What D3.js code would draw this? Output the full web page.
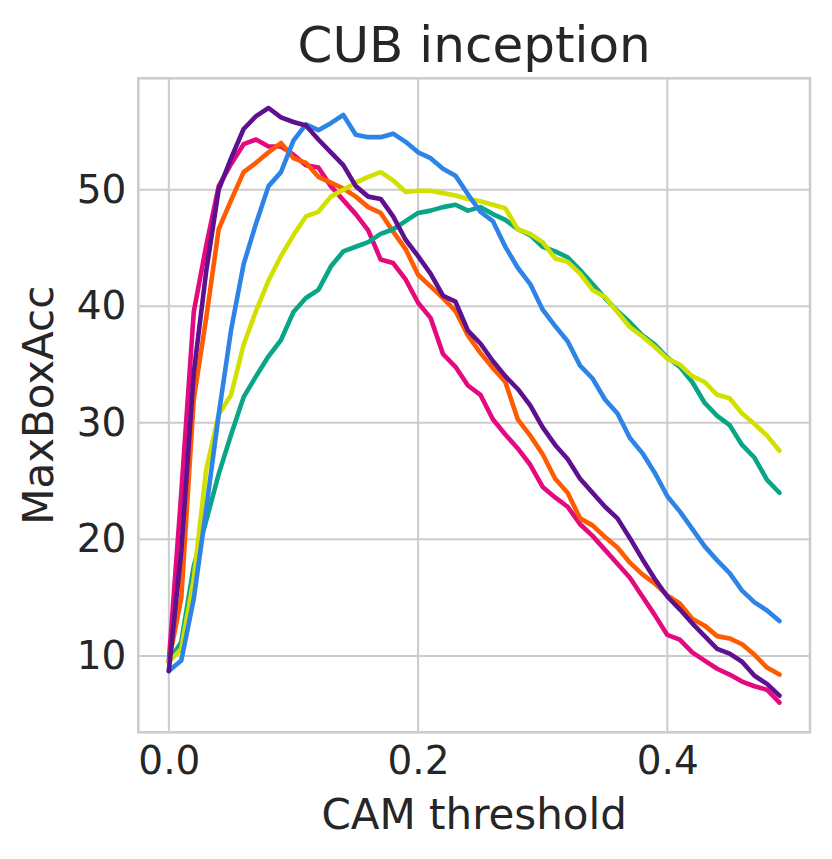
<!DOCTYPE html>
<html>
<head>
<meta charset="utf-8">
<script src="https://cdn.jsdelivr.net/npm/d3@7"></script>
<style>
  html, body { margin: 0; padding: 0; background: #fff; }
  text { font-family: "DejaVu Sans", sans-serif; fill: #262626; }
</style>
</head>
<body>
<svg id="chart" width="832" height="859"></svg>
<script>
// CAM thresholds on the x axis
const thresholds = [0.00, 0.01, 0.02, 0.03, 0.04, 0.05, 0.06, 0.07, 0.08, 0.09,
  0.10, 0.11, 0.12, 0.13, 0.14, 0.15, 0.16, 0.17, 0.18, 0.19,
  0.20, 0.21, 0.22, 0.23, 0.24, 0.25, 0.26, 0.27, 0.28, 0.29,
  0.30, 0.31, 0.32, 0.33, 0.34, 0.35, 0.36, 0.37, 0.38, 0.39,
  0.40, 0.41, 0.42, 0.43, 0.44, 0.45, 0.46, 0.47, 0.48, 0.49]

const magentaValues = [9.5, 24, 39.5, 45.2, 50.3, 52.2, 53.9, 54.3, 53.7, 53.7,
  53.0, 52.1, 51.9, 50.3, 49.1, 47.9, 46.5, 44.0, 43.7, 42.3,
  40.3, 39.0, 35.9, 34.8, 33.2, 32.4, 30.3, 29.0, 27.8, 26.4,
  24.5, 23.6, 22.8, 21.3, 20.3, 19.1, 17.9, 16.7, 15.1, 13.5,
  11.8, 11.4, 10.3, 9.6, 8.9, 8.4, 7.8, 7.4, 7.1, 6.0]

const orangeValues = [9.5, 15, 32, 39.0, 46.6, 49.1, 51.5, 52.3, 53.2, 54.0,
  52.7, 52.3, 51.1, 50.6, 50.1, 49.4, 48.5, 48.0, 46.4, 44.9,
  42.7, 41.7, 40.7, 39.6, 37.5, 36.0, 34.7, 33.5, 30.3, 28.9,
  27.3, 25.2, 24.0, 21.8, 21.2, 20.2, 19.3, 18.0, 17.0, 16.2,
  15.2, 14.5, 13.2, 12.6, 11.7, 11.5, 11.0, 10.1, 9.0, 8.4]

const tealValues = [9.5, 11.2, 17.7, 21.6, 25.6, 29.0, 32.2, 34.0, 35.7, 37.1,
  39.5, 40.7, 41.4, 43.4, 44.7, 45.1, 45.5, 46.2, 46.6, 47.3,
  48.0, 48.2, 48.5, 48.7, 48.2, 48.5, 47.9, 47.4, 46.6, 46.1,
  45.1, 44.7, 44.2, 43.1, 41.9, 40.7, 39.6, 38.6, 37.5, 36.7,
  35.6, 34.8, 33.5, 31.7, 30.6, 29.8, 28.1, 27.0, 25.1, 24.0]

const yellowValues = [9.5, 10.6, 16.6, 26.0, 30.7, 32.4, 36.7, 39.6, 42.2, 44.3,
  46.1, 47.7, 48.1, 49.4, 50.0, 50.6, 51.1, 51.5, 50.8, 49.8,
  49.9, 49.9, 49.7, 49.5, 49.2, 49.0, 48.7, 48.4, 46.6, 46.2,
  45.5, 44.1, 43.8, 42.8, 41.4, 40.8, 39.5, 38.2, 37.4, 36.5,
  35.5, 35.0, 34.0, 33.5, 32.4, 32.1, 30.8, 29.9, 28.9, 27.6]

const blueValues = [8.7, 9.6, 14.9, 22.6, 30.7, 38.0, 43.6, 47.1, 50.3, 51.5,
  54.2, 55.6, 55.1, 55.7, 56.4, 54.7, 54.5, 54.5, 54.8, 54.1,
  53.2, 52.7, 51.8, 51.2, 49.6, 48.1, 47.3, 45.1, 43.3, 41.9,
  39.7, 38.3, 37.0, 34.9, 33.8, 32.0, 30.8, 28.7, 27.4, 25.7,
  23.7, 22.4, 20.9, 19.4, 18.2, 17.1, 15.6, 14.6, 13.9, 13.0]

const purpleValues = [8.7, 19, 34.3, 43.0, 50.0, 52.7, 55.2, 56.3, 57.0, 56.2,
  55.8, 55.5, 54.3, 53.2, 52.1, 50.3, 49.4, 49.2, 47.7, 45.7,
  44.3, 42.8, 40.9, 40.4, 37.9, 36.8, 35.3, 34.0, 32.9, 31.5,
  29.6, 28.1, 26.9, 25.2, 24.0, 22.8, 21.8, 20.1, 18.3, 16.6,
  15.1, 14.0, 12.8, 11.7, 10.6, 10.2, 9.5, 8.3, 7.6, 6.6]

const xTicks = [0.0, 0.2, 0.4]
const yTicks = [10, 20, 30, 40, 50]

// drawing order matters for overlaps, last one ends up on top
const series = [
  { values: magentaValues, color: "#e5097f" },
  { values: orangeValues, color: "#ff5b00" },
  { values: tealValues, color: "#08a587" },
  { values: yellowValues, color: "#d2e000" },
  { values: blueValues, color: "#2e84e6" },
  { values: purpleValues, color: "#5d108f" }
]

const width = 832
const height = 859
const margin = { top: 78.3, right: 22, bottom: 126.7, left: 138.3 }

const svg = d3.select("#chart")

// matplotlib style 5% padding around the data
function padded(extent) {
  const pad = (extent[1] - extent[0]) * 0.05
  return [extent[0] - pad, extent[1] + pad]
}

const allValues = series.flatMap(s => s.values)

const x = d3.scaleLinear()
  .domain(padded(d3.extent(thresholds)))
  .range([margin.left, width - margin.right])

const y = d3.scaleLinear()
  .domain(padded(d3.extent(allValues)))
  .range([height - margin.bottom, margin.top])

// grid
const grid = svg.append("g")
grid.selectAll("line.vgrid")
  .data(xTicks)
  .join("line")
  .attr("class", "vgrid")
  .attr("x1", d => x(d)).attr("x2", d => x(d))
  .attr("y1", margin.top).attr("y2", height - margin.bottom)
  .attr("stroke", "#cccccc")
  .attr("stroke-width", 2)

grid.selectAll("line.hgrid")
  .data(yTicks)
  .join("line")
  .attr("class", "hgrid")
  .attr("x1", margin.left).attr("x2", width - margin.right)
  .attr("y1", d => y(d)).attr("y2", d => y(d))
  .attr("stroke", "#cccccc")
  .attr("stroke-width", 2)

// lines
const line = d3.line()
  .x((d, i) => x(thresholds[i]))
  .y(d => y(d))

svg.append("g")
  .selectAll("path")
  .data(series)
  .join("path")
  .attr("d", d => line(d.values))
  .attr("fill", "none")
  .attr("stroke", d => d.color)
  .attr("stroke-width", 4.6)
  .attr("stroke-linejoin", "round")
  .attr("stroke-linecap", "round")

// frame
svg.append("rect")
  .attr("x", margin.left)
  .attr("y", margin.top)
  .attr("width", width - margin.left - margin.right)
  .attr("height", height - margin.top - margin.bottom)
  .attr("fill", "none")
  .attr("stroke", "#cccccc")
  .attr("stroke-width", 2.6)

// axes, seaborn whitegrid has no tick marks
const xAxis = d3.axisBottom(x)
  .tickValues(xTicks)
  .tickFormat(d3.format(".1f"))
  .tickSize(0)
  .tickPadding(14)

const yAxis = d3.axisLeft(y)
  .tickValues(yTicks)
  .tickFormat(d3.format("d"))
  .tickSize(0)
  .tickPadding(12)

svg.append("g")
  .attr("transform", `translate(0,${height - margin.bottom})`)
  .call(xAxis)
  .call(g => g.select(".domain").remove())
  .call(g => g.selectAll("text")
    .attr("font-size", 39)
    .attr("font-family", "DejaVu Sans")
    .attr("fill", "#262626"))

svg.append("g")
  .attr("transform", `translate(${margin.left},0)`)
  .call(yAxis)
  .call(g => g.select(".domain").remove())
  .call(g => g.selectAll("text")
    .attr("font-size", 39)
    .attr("font-family", "DejaVu Sans")
    .attr("fill", "#262626"))

const plotCenterX = (margin.left + width - margin.right) / 2
const plotCenterY = (margin.top + height - margin.bottom) / 2

svg.append("text")
  .attr("x", plotCenterX)
  .attr("y", 62)
  .attr("text-anchor", "middle")
  .attr("font-size", 50)
  .text("CUB inception")

svg.append("text")
  .attr("x", plotCenterX)
  .attr("y", 829)
  .attr("text-anchor", "middle")
  .attr("font-size", 42)
  .text("CAM threshold")

svg.append("text")
  .attr("transform", `translate(53,${plotCenterY}) rotate(-90)`)
  .attr("text-anchor", "middle")
  .attr("font-size", 42)
  .text("MaxBoxAcc")
</script>
</body>
</html>
